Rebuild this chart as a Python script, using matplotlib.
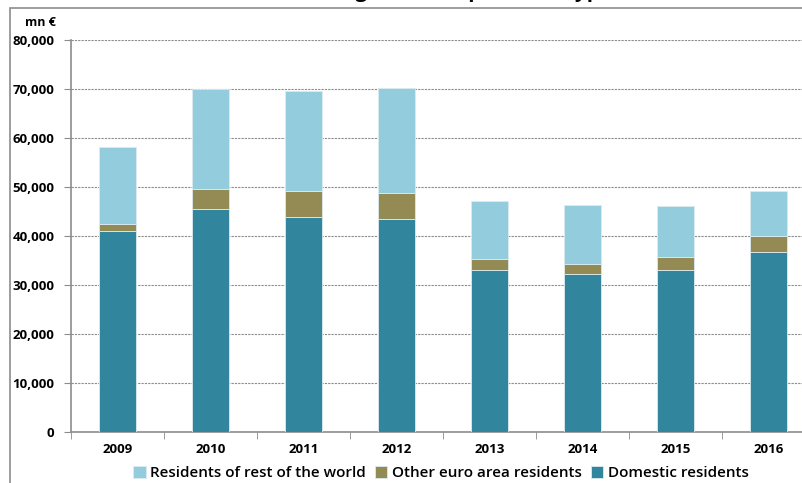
import numpy as np
import matplotlib.pyplot as plt
from matplotlib.patches import Rectangle
from matplotlib.ticker import FuncFormatter

plt.rcParams.update({
    'font.family': ['Open Sans', 'DejaVu Sans'],
    'font.size': 9,
})

years = ['2009', '2010', '2011', '2012', '2013', '2014', '2015', '2016']
# mn EUR
domestic = [41100, 45500, 43900, 43400, 33100, 32300, 33000, 36700]
other_euro = [1400, 4000, 5300, 5400, 2300, 2000, 2800, 3200]
rest_world = [15700, 20500, 20300, 21500, 11700, 12100, 10400, 9200]

c_domestic = '#31859c'
c_other = '#948a54'
c_rest = '#93cddd'
edge = '#dcebf0'

fig = plt.figure(figsize=(8.03, 4.83), dpi=100)

# outer chart frame (right/bottom edges fall outside the canvas)
fig.patches.append(Rectangle((10 / 803, -0.1), 1.2, 1.1 - 8 / 483,
                             transform=fig.transFigure, fill=False,
                             edgecolor='#8c8c8c', lw=1.2))
fig.text(0.57, 1 + 2.5 / 483, 'Banking sector deposits in Cyprus',
         ha='center', va='baseline', fontsize=15, fontweight='bold')

ax = fig.add_axes([71 / 803, 1 - 432 / 483, 744 / 803, 392 / 483])

x = np.arange(len(years))
w = 0.4
d = np.array(domestic)
o = np.array(other_euro)
r = np.array(rest_world)
ax.bar(x, d, w, color=c_domestic, edgecolor=edge, lw=0.6, label='Domestic residents', zorder=3)
ax.bar(x, o, w, bottom=d, color=c_other, edgecolor=edge, lw=0.6, label='Other euro area residents', zorder=3)
ax.bar(x, r, w, bottom=d + o, color=c_rest, edgecolor=edge, lw=0.6, label='Residents of rest of the world', zorder=3)

ax.set_xlim(-0.5, len(years) - 0.5)
ax.set_ylim(0, 80000)
ax.set_yticks(np.arange(0, 80001, 10000))
ax.yaxis.set_major_formatter(FuncFormatter(lambda v, p: f'{int(v):,}'))
ax.grid(axis='y', color='#8c8c8c', linestyle=(0, (2, 1)), lw=0.8, zorder=0)

ax.set_xticks(x)
ax.set_xticklabels(years, fontweight='bold', fontsize=9.5)
ax.set_xticks(np.arange(-0.5, len(years), 1), minor=True)
ax.tick_params(axis='x', which='major', length=0, pad=8)
ax.tick_params(axis='x', which='minor', length=5, color='#8c8c8c', direction='out')
ax.tick_params(axis='y', length=5, color='#8c8c8c', pad=7, labelsize=9.5)
for lab in ax.get_yticklabels():
    lab.set_fontweight('bold')

for s in ['top', 'right']:
    ax.spines[s].set_visible(False)
for s in ['left', 'bottom']:
    ax.spines[s].set_color('#8c8c8c')
    ax.spines[s].set_linewidth(1.2)

fig.text(40 / 803, 1 - 22 / 483, 'mn €', ha='center', va='center',
         fontsize=9, fontweight='bold')

h, l = ax.get_legend_handles_labels()
fig.legend(h[::-1], l[::-1], loc='center', bbox_to_anchor=(441 / 803, 1 - 473 / 483),
           ncol=3, frameon=False, handlelength=0.8, handleheight=0.8,
           handletextpad=0.3, columnspacing=0.6, borderpad=0,
           prop={'size': 11, 'weight': 'semibold'})

fig.savefig('out.png', dpi=100)
